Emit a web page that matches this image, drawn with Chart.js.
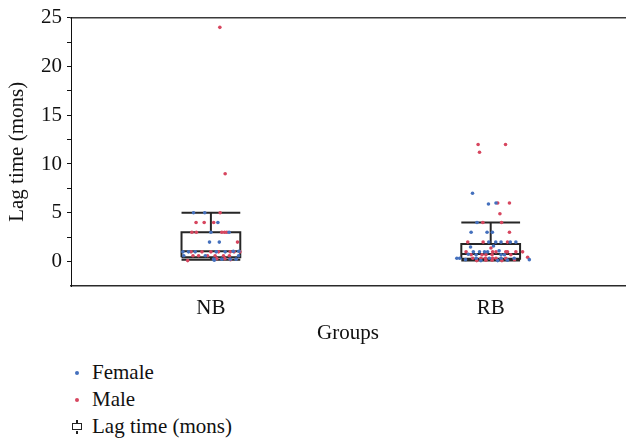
<!DOCTYPE html>
<html>
<head>
<meta charset="utf-8">
<script src="https://cdn.jsdelivr.net/npm/chart.js@4/dist/chart.umd.min.js"></script>
<style>
  body { margin: 0; background: #fff; font-family: "Liberation Serif", serif; }
  #wrap { position: relative; width: 629px; height: 350px; }
  #legend { position: absolute; left: 70px; top: 359px; font-size: 21px; color: #111; }
  #legend .item { height: 27px; line-height: 27px; position: relative; padding-left: 22px; }
  #legend .dot { position: absolute; left: 5px; top: 12px; width: 4px; height: 4px; border-radius: 50%; }
  #legend .box { position: absolute; left: 2px; top: 10px; width: 8px; height: 5px; border: 1.5px solid #222; }
  #legend .box:before, #legend .box:after { content: ""; position: absolute; left: 3px; width: 1.5px; height: 3px; background: #222; }
  #legend .box:before { top: -4.5px; }
  #legend .box:after { bottom: -4.5px; }
</style>
</head>
<body>
<div id="wrap"><canvas id="chart"></canvas></div>
<div id="legend"></div>
<script>
var groups = ["NB", "RB"];

// box plot statistics per group
var whiskerLow = [0.2, 0.1];
var boxQ1 = [0.44, 0.28];
var boxMedian = [1.05, 0.78];
var boxQ3 = [3, 1.8];
var whiskerHigh = [5, 4];

// jittered points: [offset from group centre, lag time]
var femaleNB = [
  [-0.062, 5], [-0.022, 5], [0.025, 4], [0, 3], [0.065, 3], [-0.005, 2], [0.03, 2],
  [-0.10, 1], [-0.08, 1], [-0.056, 1], [0.019, 1], [0.051, 1], [0.08, 1.05], [0.1, 1.05],
  [-0.097, 0.6], [0.099, 0.6], [-0.02, 0.6],
  [0.01, 0.25], [0.039, 0.25], [0.069, 0.25], [0.09, 0.25], [0.012, 0.15]
];
var maleNB = [
  [0.033, 5], [-0.053, 4], [-0.024, 4], [0.01, 4],
  [-0.068, 3], [-0.052, 3], [0.039, 3], [0.049, 3], [0.057, 3],
  [0.095, 2],
  [-0.071, 1], [-0.032, 1], [0, 1], [0.027, 1], [0.069, 1], [0.083, 1], [0.104, 1],
  [-0.064, 0.6], [-0.044, 0.6], [-0.012, 0.6], [0.015, 0.6], [0.045, 0.6], [0.066, 0.6],
  [0.021, 0.3], [-0.083, 0.1], [0.05, 0.3], [0.07, 0.2],
  [0.032, 24], [0.051, 9]
];
var femaleRB = [
  [-0.065, 7], [-0.008, 5.9], [0.019, 6], [-0.049, 4],
  [-0.07, 3], [-0.013, 3], [0.006, 3],
  [-0.007, 2], [0.018, 2], [0.037, 2], [0.07, 2], [0.09, 2],
  [-0.072, 1.5], [0.01, 1.6],
  [-0.062, 1], [-0.04, 1], [-0.022, 1], [-0.011, 1], [0.03, 1.1],
  [-0.052, 0.7], [0.037, 0.7], [0.049, 0.7], [-0.08, 0.75],
  [-0.121, 0.35], [-0.111, 0.35], [-0.052, 0.35], [-0.005, 0.35], [0.037, 0.35], [0.084, 0.35],
  [0.138, 0.2], [-0.035, 0.1], [0.025, 0.1], [-0.09, 0.2], [0.06, 0.15]
];
var maleRB = [
  [-0.045, 12], [0.053, 12], [-0.04, 11.2],
  [0.025, 6], [0.067, 6], [0.033, 4.9], [-0.028, 4], [0.039, 4],
  [0.067, 3], [-0.082, 2], [-0.027, 2], [0.06, 2], [0.001, 1.4],
  [-0.088, 1], [0.007, 1], [0.019, 1], [0.054, 1], [0.06, 1], [0.09, 1], [0.114, 1],
  [-0.07, 0.7], [-0.031, 0.7], [-0.017, 0.7], [0.005, 0.7], [0.072, 0.7],
  [-0.064, 0.35], [-0.035, 0.35], [-0.019, 0.35], [0.007, 0.35], [0.019, 0.35], [0.054, 0.35],
  [0.132, 0.45], [-0.017, 0.15], [0.005, 0.15], [-0.05, 0.1], [0.04, 0.1], [0.085, 0.2]
];

var blue = "#4470bd";
var red = "#d7465f";
var boxColor = "#262626";
var half = 0.105;

function toPoints(list, g) {
  return list.map(function (p) { return {x: g + p[0], y: p[1]}; });
}

function boxPoints(i) {
  var gap = {x: i, y: null};
  return [
    {x: i - half, y: boxQ1[i]}, {x: i + half, y: boxQ1[i]}, {x: i + half, y: boxQ3[i]},
    {x: i - half, y: boxQ3[i]}, {x: i - half, y: boxQ1[i]}, gap,
    {x: i - half, y: boxMedian[i]}, {x: i + half, y: boxMedian[i]}, gap,
    {x: i, y: boxQ3[i]}, {x: i, y: whiskerHigh[i]}, gap,
    {x: i - half, y: whiskerHigh[i]}, {x: i + half, y: whiskerHigh[i]}, gap,
    {x: i, y: boxQ1[i]}, {x: i, y: whiskerLow[i]}, gap,
    {x: i - half, y: whiskerLow[i]}, {x: i + half, y: whiskerLow[i]}
  ];
}

var datasets = [
  {label: "Female", data: toPoints(femaleNB, 0).concat(toPoints(femaleRB, 1)),
   backgroundColor: blue, borderWidth: 0, pointRadius: 1.8, order: 0},
  {label: "Male", data: toPoints(maleNB, 0).concat(toPoints(maleRB, 1)),
   backgroundColor: red, borderWidth: 0, pointRadius: 1.8, order: 0}
];
for (var i = 0; i < groups.length; i++) {
  datasets.push({
    label: "Lag time (mons)", data: boxPoints(i), showLine: true, spanGaps: false,
    borderColor: boxColor, borderWidth: 2, pointRadius: 0, order: 1
  });
}

var font = {family: "'Liberation Serif', serif", size: 21};

new Chart("chart", {
  type: "scatter",
  data: {datasets: datasets},
  options: {
    responsive: true,
    maintainAspectRatio: false,
    animation: false,
    layout: {padding: {top: 16, right: 0, bottom: 0, left: 0}},
    plugins: {legend: {display: false}, tooltip: {enabled: false}},
    scales: {
      x: {
        type: "linear", min: -0.5, max: 1.48,
        afterBuildTicks: function (s) { s.ticks = groups.map(function (g, k) { return {value: k}; }); },
        afterFit: function (s) { s.height = 64; },
        ticks: {font: font, color: "#111", padding: 2, callback: function (v) { return groups[v]; }},
        grid: {display: false},
        border: {display: true, color: "#2a2a2a", width: 1.5},
        title: {display: true, text: "Groups", font: font, color: "#111", padding: {top: 0}}
      },
      x2: {
        type: "linear", position: "top", min: 0, max: 1,
        ticks: {display: false}, grid: {display: false},
        afterFit: function (s) { s.height = 0; },
        border: {display: true, color: "#3a3a3a", width: 1.5}
      },
      y: {
        min: -2.5, max: 25,
        afterFit: function (s) { s.width = 71; },
        ticks: {stepSize: 2.5, autoSkip: false, font: font, color: "#111", padding: 5,
          callback: function (v) { return (v >= 0 && v % 5 === 0) ? String(v) : ""; }},
        grid: {drawOnChartArea: false, drawTicks: true, tickLength: 4,
          color: function (c) { return c.tick && c.tick.value < 0 ? "rgba(0,0,0,0)" : "#111"; }},
        border: {display: true, color: "#111", width: 1},
        title: {display: true, text: "Lag time (mons)", font: font, color: "#111", padding: {top: 5, bottom: 0}}
      }
    }
  }
});

var legend = document.getElementById("legend");
legend.innerHTML =
  '<div class="item"><span class="dot" style="background:' + blue + '"></span>Female</div>' +
  '<div class="item"><span class="dot" style="background:' + red + '"></span>Male</div>' +
  '<div class="item"><span class="box"></span>Lag time (mons)</div>';
</script>
</body>
</html>
